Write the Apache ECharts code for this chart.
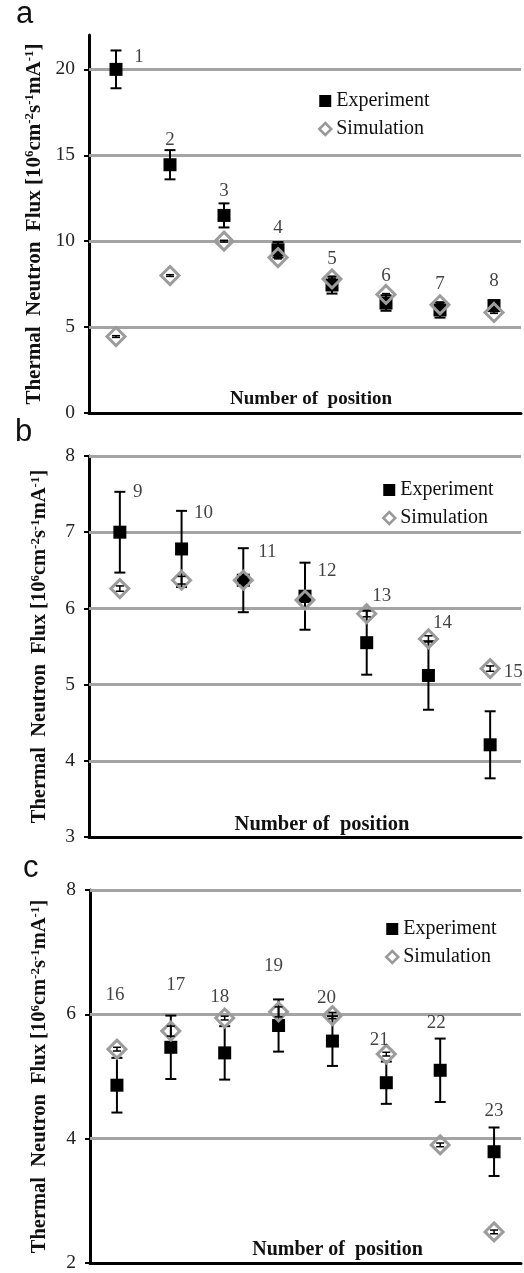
<!DOCTYPE html>
<html><head><meta charset="utf-8">
<script src="https://cdn.jsdelivr.net/npm/echarts@6/dist/echarts.min.js"></script>
<style>html,body{margin:0;padding:0;background:#fff}#c{width:524px;height:1273px}</style>
</head><body><div id="c"></div>
<script>
// ---------- DATA ----------
const posA = ['1','2','3','4','5','6','7','8'];
const expA = [20.0, 14.45, 11.5, 9.5, 7.45, 6.4, 6.0, 6.25];
const expErrA = [1.1, 0.85, 0.7, 0.45, 0.5, 0.45, 0.45, 0.3];
const simA = [4.45, 8.0, 10.0, 9.05, 7.8, 6.9, 6.3, 5.85];
const simErrA = [0.05, 0.05, 0.05, 0.08, 0.05, 0.05, 0.05, 0.05];
const ticksA = [0, 5, 10, 15, 20];
const gridValsA = [5, 10, 15, 20];

const posB = ['9','10','11','12','13','14','15'];
const expB = [7.0, 6.78, 6.37, 6.16, 5.55, 5.12, 4.21];
const expErrB = [0.53, 0.5, 0.42, 0.44, 0.42, 0.45, 0.44];
const simB = [6.26, 6.37, 6.37, 6.11, 5.93, 5.6, 5.21];
const simErrB = [0.035, 0.05, 0.04, 0.03, 0.04, 0.04, 0.035];
const ticksB = [3, 4, 5, 6, 7, 8];
const gridValsB = [4, 5, 6, 7, 8];

const posC = ['16','17','18','19','20','21','22','23'];
const expC = [4.86, 5.47, 5.38, 5.82, 5.57, 4.9, 5.1, 3.79];
const expErrC = [0.44, 0.51, 0.43, 0.42, 0.4, 0.34, 0.51, 0.39];
const simC = [5.44, 5.73, 5.94, 6.04, 5.98, 5.36, 3.9, 2.5];
const simErrC = [0.03, 0.08, 0.03, 0.08, 0.05, 0.03, 0.03, 0.03];
const ticksC = [2, 4, 6, 8];
const gridValsC = [4, 6, 8];

const legendNames = ['Experiment', 'Simulation'];
const xTitle = 'Number of  position';
const yTitle = 'Thermal  Neutron  Flux [10{s|6}cm{s|-2}s{s|-1}mA{s|-1}]';
const panelLetters = ['a', 'b', 'c'];

// ---------- LAYOUT (pixel offsets of position labels from top of the experiment error bar) ----------
const labelOffA = [[23,7],[0,-10],[0,-12],[0,-14],[0,-17],[0,-19],[0,-18],[0,-19]];
const labelOffB = [[18,0],[22,2],[24,4],[22,8],[15,-15],[14,-18],[23,-39]];
const labelOffC = [[-2,-63],[5,-31],[-5,-29],[-5,-33],[-6,-18],[-7,-22],[-4,-16],[0,-16]];

const panels = [
  {cats: posA, exp: expA, expErr: expErrA, sim: simA, simErr: simErrA, ticks: ticksA, gridVals: gridValsA, labelOff: labelOffA,
   grid: {left: 89, width: 432, top: 35, height: 378}, min: 0, max: 22, interval: 5,
   legend: {left: 318, top: 91}, xNamePad: 12, xNameSize: 19, yNameSize: 21, yNameGap: 41, yNamePad: [0,0,0,0], letter: {x: 16, y: 15}},
  {cats: posB, exp: expB, expErr: expErrB, sim: simB, simErr: simErrB, ticks: ticksB, gridVals: gridValsB, labelOff: labelOffB,
   grid: {left: 89, width: 432, top: 456, height: 381}, min: 3, max: 8, interval: 1,
   legend: {left: 382, top: 480}, xNamePad: 34, xNameSize: 20.5, yNameSize: 20.5, yNameGap: 39, yNamePad: [0,0,0,0], letter: {x: 15, y: 433}},
  {cats: posC, exp: expC, expErr: expErrC, sim: simC, simErr: simErrC, ticks: ticksC, gridVals: gridValsC, labelOff: labelOffC,
   grid: {left: 90, width: 431, top: 890, height: 377}, min: 2, max: 8, interval: 2,
   legend: {left: 385, top: 919}, xNamePad: 64, xNameSize: 20, yNameSize: 20.5, yNameGap: 40, yNamePad: [0,0,0,0], letter: {x: 23, y: 869}}
];

const SERIF = 'Liberation Serif';

function errRender(cap, width) {
  return function (params, api) {
    const i = api.value(0), v = api.value(1), e = api.value(2);
    const hi = api.coord([i, v + e]);
    const lo = api.coord([i, v - e]);
    const st = {stroke: '#000', lineWidth: width};
    return {type: 'group', children: [
      {type: 'line', shape: {x1: hi[0], y1: hi[1], x2: lo[0], y2: lo[1]}, style: st},
      {type: 'line', shape: {x1: hi[0] - cap, y1: hi[1], x2: hi[0] + cap, y2: hi[1]}, style: st},
      {type: 'line', shape: {x1: lo[0] - cap, y1: lo[1], x2: lo[0] + cap, y2: lo[1]}, style: st}
    ]};
  };
}

const option = {
  animation: false,
  backgroundColor: '#fff',
  grid: [], xAxis: [], yAxis: [], series: [], legend: [], graphic: []
};

panels.forEach((p, k) => {
  option.grid.push(Object.assign({containLabel: false}, p.grid));
  option.xAxis.push({
    type: 'category', gridIndex: k, data: p.cats, boundaryGap: true,
    axisLine: {show: true, lineStyle: {color: '#000', width: 3}},
    axisTick: {show: false}, axisLabel: {show: false}, splitLine: {show: false},
    name: xTitle, nameLocation: 'middle', nameGap: -23,
    nameTextStyle: {fontFamily: SERIF, fontWeight: 'bold', fontSize: p.xNameSize, color: '#111', padding: [0, 0, 0, p.xNamePad]}
  });
  const supSize = Math.round(p.yNameSize * 0.62);
  option.yAxis.push({
    type: 'value', gridIndex: k, min: p.min, max: p.max, interval: p.interval,
    axisLine: {show: true, onZero: false, lineStyle: {color: '#000', width: 3}},
    axisTick: {show: true, inside: false, length: 5, lineStyle: {color: '#000', width: 2}, customValues: p.ticks},
    axisLabel: {show: true, margin: 14, fontFamily: SERIF, fontSize: 19.5, color: '#222', customValues: p.ticks,
      formatter: v => (p.ticks.indexOf(v) >= 0 ? String(v) : '')},
    splitLine: {show: false},
    name: yTitle, nameLocation: 'middle', nameRotate: 90, nameGap: p.yNameGap,
    nameTextStyle: {fontFamily: SERIF, fontWeight: 'bold', fontSize: p.yNameSize, color: '#111', padding: p.yNamePad,
      rich: {s: {fontFamily: SERIF, fontWeight: 'bold', fontSize: supSize, color: '#111', verticalAlign: 'top', lineHeight: supSize}}}
  });
  // horizontal grid lines
  option.series.push({
    type: 'line', xAxisIndex: k, yAxisIndex: k, data: [], silent: true, z: 1, name: 'grid' + k,
    markLine: {silent: true, z: 1, symbol: 'none', label: {show: false}, animation: false,
      lineStyle: {color: '#a4a4a4', width: 3, type: 'solid'},
      data: p.gridVals.map(v => ({yAxis: v}))}
  });
  // experiment error bars
  option.series.push({
    type: 'custom', xAxisIndex: k, yAxisIndex: k, name: 'expErr' + k, z: 12, silent: true,
    renderItem: errRender(5.5, 2),
    encode: {x: 0, y: 1},
    data: p.exp.map((v, i) => [i, v, p.expErr[i]])
  });
  // experiment markers
  option.series.push({
    type: 'scatter', xAxisIndex: k, yAxisIndex: k, name: legendNames[0], z: 13, silent: true,
    symbol: 'rect', symbolSize: 13, itemStyle: {color: '#000', opacity: 1},
    data: p.exp.map((v, i) => [i, v])
  });
  // simulation markers
  option.series.push({
    type: 'scatter', xAxisIndex: k, yAxisIndex: k, name: legendNames[1], z: 14, silent: true,
    symbol: 'diamond', symbolSize: 18,
    itemStyle: {color: 'rgba(255,255,255,0)', borderColor: '#9c9c9c', borderWidth: 3, opacity: 1},
    data: p.sim.map((v, i) => [i, v])
  });
  // simulation error bars
  option.series.push({
    type: 'custom', xAxisIndex: k, yAxisIndex: k, name: 'simErr' + k, z: 15, silent: true,
    renderItem: errRender(4, 1.5),
    encode: {x: 0, y: 1},
    data: p.sim.map((v, i) => [i, v, p.simErr[i]])
  });
  // position number labels
  option.series.push({
    type: 'scatter', xAxisIndex: k, yAxisIndex: k, name: 'labels' + k, z: 16, silent: true,
    symbolSize: 1, itemStyle: {color: 'rgba(0,0,0,0)'},
    label: {show: true, position: 'inside', fontFamily: SERIF, fontSize: 19, color: '#111',
      formatter: prm => p.cats[prm.dataIndex]},
    data: p.exp.map((v, i) => ({value: [i, v + p.expErr[i]], label: {offset: p.labelOff[i]}}))
  });
  option.legend.push({
    left: p.legend.left, top: p.legend.top, orient: 'vertical', padding: 0, itemGap: 8,
    itemWidth: 12, itemHeight: 12, selectedMode: false,
    textStyle: {fontFamily: SERIF, fontSize: 20, color: '#111'},
    data: [
      {name: legendNames[0], icon: 'rect', itemStyle: {color: '#000', borderWidth: 0}},
      {name: legendNames[1], icon: 'diamond', itemStyle: {color: '#fff', borderColor: '#999', borderWidth: 2.5}}
    ]
  });
  option.graphic.push({
    type: 'text', left: p.letter.x, top: p.letter.y - 16,
    style: {text: panelLetters[k], font: '31px "Liberation Sans"', fill: '#111'}
  });
});

const chart = echarts.init(document.getElementById('c'), null, {renderer: 'canvas'});
chart.setOption(option);
</script>
</body></html>
